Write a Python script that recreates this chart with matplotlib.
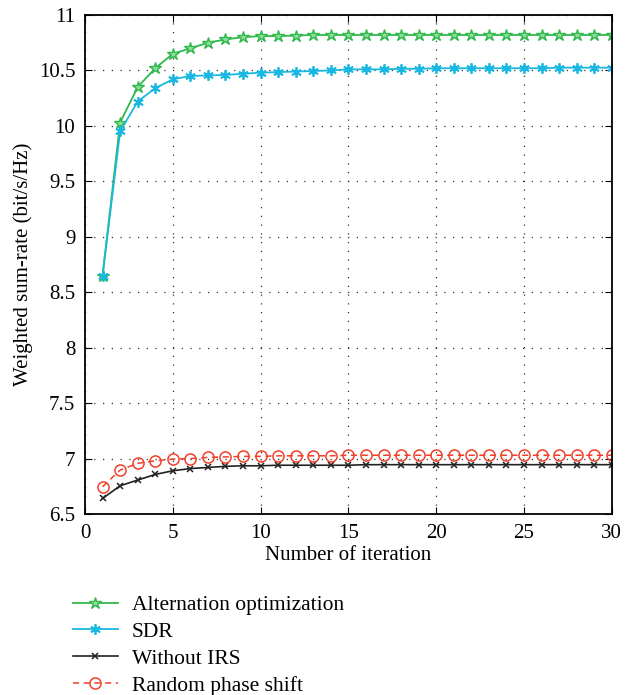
import matplotlib.pyplot as plt

plt.rcParams['font.family'] = ['Liberation Serif', 'DejaVu Serif']

iters = list(range(1, 31))
alt_opt = [8.65, 10.03, 10.35, 10.52, 10.65, 10.70, 10.75, 10.78, 10.80, 10.81,
           10.81, 10.815, 10.82, 10.82, 10.82, 10.82, 10.82, 10.82, 10.82, 10.82,
           10.82, 10.82, 10.82, 10.82, 10.82, 10.82, 10.82, 10.82, 10.82, 10.82]
sdr = [8.65, 9.95, 10.22, 10.34, 10.42, 10.45, 10.455, 10.46, 10.47, 10.48,
       10.485, 10.49, 10.495, 10.50, 10.51, 10.51, 10.51, 10.515, 10.515, 10.52,
       10.52, 10.52, 10.52, 10.52, 10.52, 10.52, 10.525, 10.525, 10.525, 10.525]
no_irs = [6.64, 6.755, 6.806, 6.857, 6.89, 6.91, 6.92, 6.93, 6.935, 6.935,
          6.94, 6.94, 6.94, 6.94, 6.94, 6.945, 6.945, 6.945, 6.945, 6.945,
          6.945, 6.945, 6.945, 6.945, 6.945, 6.945, 6.945, 6.945, 6.945, 6.945]
random_phase = [6.746, 6.896, 6.957, 6.98, 6.995, 7.0, 7.01, 7.015, 7.02, 7.02,
                7.025, 7.025, 7.025, 7.025, 7.03, 7.03, 7.03, 7.03, 7.03, 7.03,
                7.03, 7.03, 7.03, 7.03, 7.03, 7.03, 7.03, 7.03, 7.03, 7.03]

fig = plt.figure(figsize=(6.32, 6.95), dpi=100)
ax = fig.add_axes([0.1345, 0.2604, 0.8335, 0.7180])

ax.plot(iters, alt_opt, color='#2eb84a', marker='*', markersize=9,
        markerfacecolor='#8fdc9c', markeredgecolor='#2eb84a', lw=1.3,
        label='Alternation optimization')
ax.plot(iters, sdr, color='#1ab8e0', marker=(6, 2, 0), markersize=7.5,
        markeredgewidth=1.3, lw=1.3, label='SDR')
ax.plot(iters, no_irs, color='#222222', marker='x', markersize=5,
        markeredgewidth=1.1, lw=1.2, label='Without IRS')
ax.plot(iters, random_phase, color='#f0402a', ls=(0, (4, 3)), marker='o',
        markersize=8, markerfacecolor='none', markeredgewidth=1.1, lw=1.1,
        label='Random phase shift')

ax.set_xlim(0, 30)
ax.set_ylim(6.5, 11)
ax.set_xticks([0, 5, 10, 15, 20, 25, 30])
ax.set_yticks([6.5, 7, 7.5, 8, 8.5, 9, 9.5, 10, 10.5, 11])
ax.set_yticklabels(['6.5', '7', '7.5', '8', '8.5', '9', '9.5', '10', '10.5', '11'])
ax.tick_params(direction='in', top=True, right=True, labelsize=15, length=5, pad=7)
ax.grid(True, color='#333333', ls=(0, (1, 6)), lw=0.9)
for s in ax.spines.values():
    s.set_linewidth(1.3)
ax.set_xlabel('Number of iteration', fontsize=15, labelpad=2)
ax.set_ylabel('Weighted sum-rate (bit/s/Hz)', fontsize=15, labelpad=4)

ax.legend(loc='upper left', bbox_to_anchor=(-0.04, -0.145), frameon=False,
          fontsize=15.5, handlelength=2.1, handletextpad=0.65,
          labelspacing=0.32, borderaxespad=0)

fig.savefig('out.png', dpi=100)
